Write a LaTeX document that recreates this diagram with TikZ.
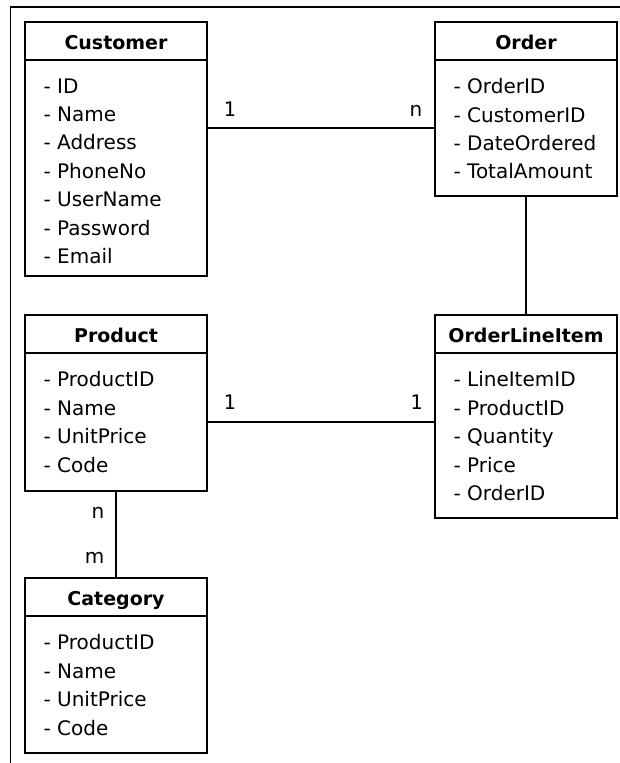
\documentclass[tikz,border=0pt]{standalone}
\usepackage{fontspec}
\setmainfont{DejaVu Sans}
\newfontfamily\cardfont{DejaVu Sans Mono}
\usetikzlibrary{positioning}

\tikzset{
  head/.style={draw, minimum width=182pt, minimum height=38pt, inner sep=0pt,
    outer sep=0pt, text height=16pt, text depth=0pt,
    font=\fontsize{19}{23}\selectfont\bfseries},
  body/.style={draw, minimum width=182pt, inner sep=0pt, outer sep=0pt},
  attrs/.style={anchor=north west, align=left, inner sep=0pt,
    font=\fontsize{20}{28.4}\selectfont},
  card/.style={inner sep=0pt, font=\fontsize{20}{24}\selectfont}
}

\begin{document}
\begin{tikzpicture}[x=1pt, y=-1pt, line width=1.2pt]
  \useasboundingbox (0,0) rectangle (620,763);
  % frame
  \draw (10.5,763) -- (10.5,7) -- (620,7);

  % entities: name/title/x/y/body height/attributes
  \foreach \nm/\ttl/\x/\y/\h/\items in {
    cust/Customer/25/22/216/{- ID\\- Name\\- Address\\- PhoneNo\\- UserName\\- Password\\- Email},
    order/Order/435/22/136/{- OrderID\\- CustomerID\\- DateOrdered\\- TotalAmount},
    prod/Product/25/315/138/{- ProductID\\- Name\\- UnitPrice\\- Code},
    oli/OrderLineItem/435/315/165/{- LineItemID\\- ProductID\\- Quantity\\- Price\\- OrderID},
    cat/Category/25/578/137/{- ProductID\\- Name\\- UnitPrice\\- Code}}
  {
    \node[head, anchor=north west] (\nm) at (\x,\y) {\ttl};
    \node[body, below=0pt of \nm, minimum height=\h pt] (\nm-body) {};
    \node[attrs] (\nm-attrs) at ([xshift=18pt, yshift=-18pt]\nm-body.north west) {\items};
  }

  % relations
  \draw (order-body.west -| cust-body.east) -- (order-body.west)
    node[card, pos=0, anchor=south west, xshift=16pt, yshift=11pt] (cust-card) {\cardfont 1}
    node[card, pos=1, anchor=south east, xshift=-12pt, yshift=11pt] (order-card) {n};
  \draw (order-body.south) -- (oli.north);
  \draw (prod-body.east) -- (prod-body.east -| oli-body.west)
    node[card, pos=0, anchor=south west, xshift=16pt, yshift=12pt] (prod-card) {\cardfont 1}
    node[card, pos=1, anchor=south east, xshift=-12pt, yshift=12pt] (oli-card) {\cardfont 1};
  \draw (prod-body.south) -- (cat.north)
    node[card, pos=0, anchor=north east, xshift=-11pt, yshift=-16pt] (prod-card-n) {n}
    node[card, pos=1, anchor=south east, xshift=-11pt, yshift=14pt] (cat-card) {m};
\end{tikzpicture}
\end{document}
